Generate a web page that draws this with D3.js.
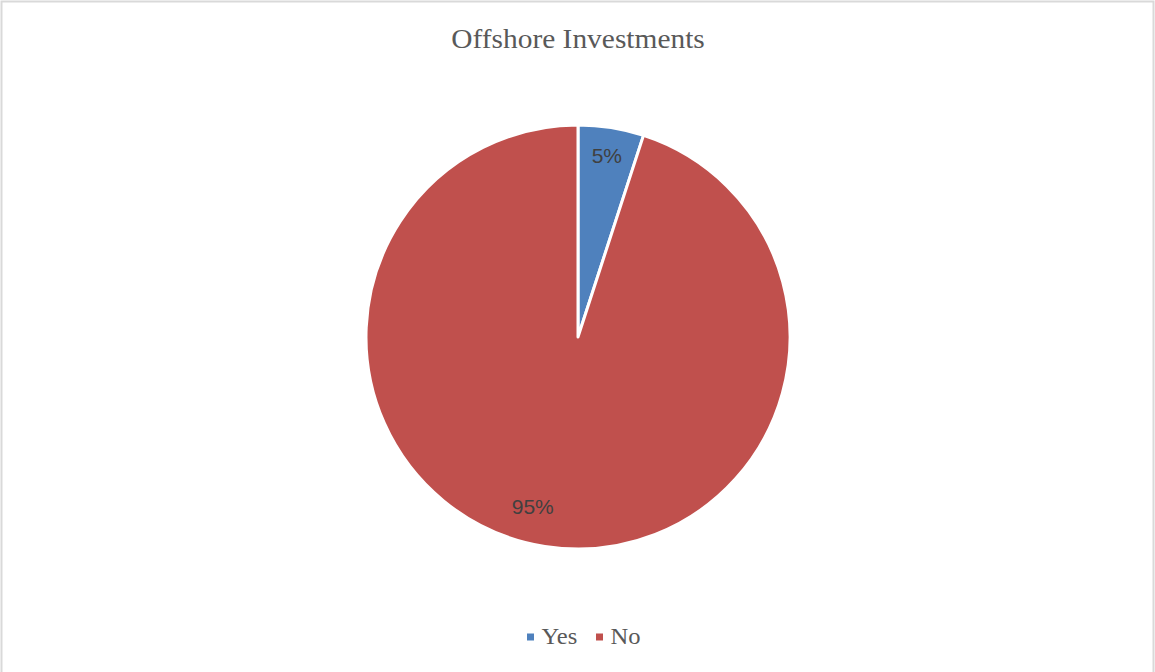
<!DOCTYPE html>
<html>
<head>
<meta charset="utf-8">
<script src="https://cdn.jsdelivr.net/npm/d3@7/dist/d3.min.js"></script>
<style>
  html, body { margin: 0; padding: 0; background: #fff; }
  svg { display: block; }
</style>
</head>
<body>
<svg id="chart" width="1155" height="672"></svg>
<script>
// Survey responses: does the respondent hold offshore investments?
const categories = ["Yes", "No"];
const shares = [5, 95];
const colors = ["#4F81BD", "#C0504D"];
const title = "Offshore Investments";

const W = 1155, H = 672;
const cx = 578, cy = 337, R = 212;

const svg = d3.select("#chart");

// chart frame
svg.append("rect")
  .attr("x", 1.5).attr("y", 1.5)
  .attr("width", W - 3).attr("height", H + 10)
  .attr("fill", "#fff")
  .attr("stroke", "#d9d9d9")
  .attr("stroke-width", 2);

svg.append("text")
  .attr("transform", `translate(${cx},47.5) scale(1.09,1)`)
  .attr("text-anchor", "middle")
  .attr("font-family", "Liberation Serif, Times New Roman, serif")
  .attr("font-size", 27)
  .attr("fill", "#595959")
  .text(title);

const data = categories.map((c, i) => ({ cat: c, value: shares[i], color: colors[i] }));

const pie = d3.pie().sort(null).value(d => d.value);
const arcs = pie(data);
const arc = d3.arc().innerRadius(0).outerRadius(R);

const g = svg.append("g").attr("transform", `translate(${cx},${cy})`);

g.selectAll("path.slice")
  .data(arcs)
  .join("path")
  .attr("class", "slice")
  .attr("d", arc)
  .attr("fill", d => d.data.color)
  .attr("stroke", "#fff")
  .attr("stroke-width", 3)
  .attr("stroke-linejoin", "round");

// data labels, placed inside each slice near the rim
const labelPlacement = [
  { radius: 0.87, shift: 0 },
  { radius: 0.825, shift: 6 * Math.PI / 180 }
];
g.selectAll("text.lbl")
  .data(arcs)
  .join("text")
  .attr("class", "lbl")
  .attr("transform", (d, i) => {
    const p = labelPlacement[i];
    const a = (d.startAngle + d.endAngle) / 2 + p.shift;
    const r = R * p.radius;
    return `translate(${r * Math.sin(a)},${-r * Math.cos(a) + 1})`;
  })
  .attr("text-anchor", "middle")
  .attr("dominant-baseline", "central")
  .attr("font-family", "Liberation Sans, Arial, sans-serif")
  .attr("font-size", 21)
  .attr("fill", "#404040")
  .text(d => d3.format(".0%")(d.data.value / 100));

// legend
const legend = svg.append("g").attr("transform", "translate(527,637)");
const items = [{ x: 0 }, { x: 69 }];
data.forEach((d, i) => {
  const it = legend.append("g").attr("transform", `translate(${items[i].x},0)`);
  it.append("rect")
    .attr("x", 0).attr("y", -3.5)
    .attr("width", 7).attr("height", 7)
    .attr("fill", d.color);
  it.append("text")
    .attr("transform", "translate(14.5,6.7) scale(1.07,1)")
    .attr("font-family", "Liberation Serif, Times New Roman, serif")
    .attr("font-size", 23)
    .attr("fill", "#595959")
    .text(d.cat);
});
</script>
</body>
</html>
